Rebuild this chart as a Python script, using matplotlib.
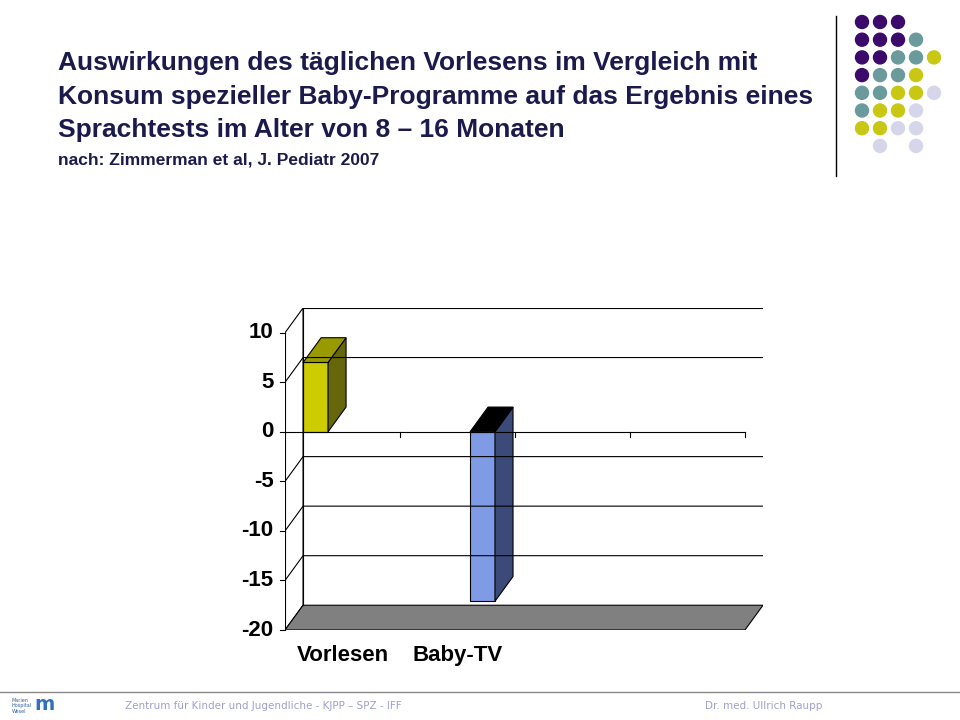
import matplotlib
matplotlib.use("Agg")
import matplotlib.pyplot as plt
from matplotlib.patches import Polygon, Circle

# Daten
categories = ["Vorlesen", "Baby-TV"]
values = [7.0, -17.1]
bar_pos = [0.157, 1.609]          # linke Vorderkante in Kategorie-Einheiten
front_colors = ["#cccc00", "#7f9be6"]
side_colors = ["#66660a", "#3b4a78"]
top_colors = ["#999900", "#000000"]
y_ticks = [10, 5, 0, -5, -10, -15, -20]

n_slots = 4
dx, dy = 0.157, 2.5   # 3D-Tiefe
bw = 0.217
ymin, ymax = -20, 10

fig = plt.figure(figsize=(9.6, 7.2), dpi=100)
fig.patch.set_facecolor("white")

# Titel
navy = "#1a1a4c"
fig.text(58/960, 1 - 63/720, "Auswirkungen des täglichen Vorlesens im Vergleich mit",
         fontsize=19, fontweight="bold", color=navy, family="Liberation Sans", va="center")
fig.text(58/960, 1 - 97/720, "Konsum spezieller Baby-Programme auf das Ergebnis eines",
         fontsize=19, fontweight="bold", color=navy, family="Liberation Sans", va="center")
fig.text(58/960, 1 - 130/720, "Sprachtests im Alter von 8 – 16 Monaten",
         fontsize=19, fontweight="bold", color=navy, family="Liberation Sans", va="center")
fig.text(58/960, 1 - 160/720, "nach: Zimmerman et al, J. Pediatr 2007",
         fontsize=12.5, fontweight="bold", color=navy, family="Liberation Sans", va="center")

# Deko-Punkte
deco = ["PPP..", "PPPT.", "PPTTY", "PTTY.", "TTYYL", "TYYL.", "YYLL.", ".L.L."]
dcol = {"P": "#3b0a6b", "T": "#6a9a9c", "Y": "#c8c814", "L": "#d6d6ea"}
dax = fig.add_axes([0, 0, 1, 1])
dax.set_xlim(0, 960)
dax.set_ylim(720, 0)
dax.axis("off")
for r, row in enumerate(deco):
    for c, ch in enumerate(row):
        if ch != ".":
            dax.add_patch(Circle((862 + c*18, 22 + r*17.7), 6.5, color=dcol[ch]))
dax.plot([836, 836], [16, 176], color="black", lw=1)
dax.plot([0, 960], [692, 692], color="#888888", lw=1)
dax.text(12, 706, "Marien\nHospital\nWesel", fontsize=3.5, color="#3060a0", ha="left", va="center")
dax.text(44, 705, "m", fontsize=14, fontweight="bold", color="#3070c0", ha="center", va="center")
dax.text(125, 706, "Zentrum für Kinder und Jugendliche - KJPP – SPZ - IFF",
         fontsize=7.5, color="#a0a0d0", va="center")
dax.text(822, 706, "Dr. med. Ullrich Raupp", fontsize=7.5, color="#a0a0d0", va="center", ha="right")

# Diagramm
ax = fig.add_axes([285/960, 90/720, 478/960, 322/720])
ax.set_xlim(0, n_slots + dx)
ax.set_ylim(ymin, ymax + dy)
ax.axis("off")

# Wände (Rückwand ohne rechte Kante)
ax.add_patch(Polygon([(dx, ymin+dy), (n_slots+dx, ymin+dy), (n_slots+dx, ymax+dy), (dx, ymax+dy)],
                     fc="white", ec="none"))
ax.plot([dx, dx, n_slots+dx], [ymin+dy, ymax+dy, ymax+dy], color="black", lw=0.8)
ax.add_patch(Polygon([(0, ymin), (dx, ymin+dy), (dx, ymax+dy), (0, ymax)], fc="white", ec="black", lw=0.8))
for y in y_ticks[1:-1]:
    if y == 0:
        continue
    ax.plot([0, dx, n_slots+dx], [y, y+dy, y+dy], color="black", lw=0.8)
ax.add_patch(Polygon([(0, ymin), (n_slots, ymin), (n_slots+dx, ymin+dy), (dx, ymin+dy)],
                     fc="#808080", ec="black", lw=0.8))

# Kategorieachse bei 0
ax.plot([0, n_slots], [0, 0], color="black", lw=0.8)
for i in range(1, n_slots + 1):
    ax.plot([i, i], [0, -0.5], color="black", lw=0.8)

# Y-Achse
ax.plot([0, 0], [ymin, ymax], color="black", lw=0.8)
for y in y_ticks:
    ax.plot([-0.04, 0], [y, y], color="black", lw=0.8, clip_on=False)
    ax.text(-0.1, y, f"{y}", ha="right", va="center", fontsize=16, fontweight="bold",
            family="Liberation Sans", clip_on=False)

# Balken
for x0, v, fc, sc, tc in zip(bar_pos, values, front_colors, side_colors, top_colors):
    lo, hi = min(0, v), max(0, v)
    ax.add_patch(Polygon([(x0, lo), (x0+bw, lo), (x0+bw, hi), (x0, hi)], fc=fc, ec="black", lw=0.8))
    ax.add_patch(Polygon([(x0+bw, lo), (x0+bw+dx, lo+dy), (x0+bw+dx, hi+dy), (x0+bw, hi)],
                         fc=sc, ec="black", lw=0.8))
    ax.add_patch(Polygon([(x0, hi), (x0+bw, hi), (x0+bw+dx, hi+dy), (x0+dx, hi+dy)],
                         fc=tc, ec="black", lw=0.8))

# Kategorienamen
for i, name in enumerate(categories):
    ax.text(i + 0.5, ymin - 2.6, name, ha="center", va="center", fontsize=16,
            fontweight="bold", family="Liberation Sans", clip_on=False)

fig.savefig("out.png", dpi=100)
